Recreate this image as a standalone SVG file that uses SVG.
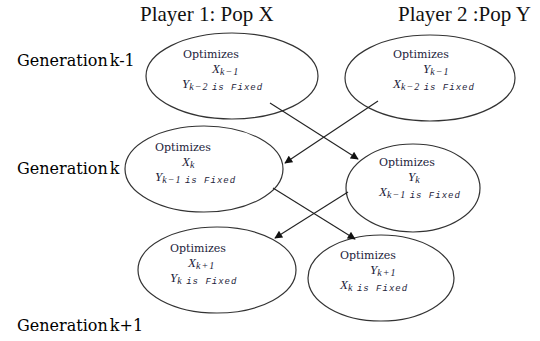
<svg xmlns="http://www.w3.org/2000/svg" width="540" height="341" viewBox="0 0 540 341">
<style>
.title{font-family:"Liberation Serif",serif;font-size:21px;fill:#111}
.gen{font-family:"DejaVu Serif","Liberation Serif",serif;font-size:16px;fill:#000;word-spacing:-3px}
.node ellipse{fill:#fff;stroke:#333;stroke-width:1.2}
.opt{font-family:"DejaVu Serif","Liberation Serif",serif;font-size:11px;fill:#1c1c3a}
.var{font-family:"Liberation Serif",serif;font-style:italic;font-size:13px;fill:#1c1c3a}
.sub{font-family:"Liberation Serif",serif;font-style:italic;font-size:10px;letter-spacing:1px}
.fx{font-family:"Liberation Mono",monospace;font-style:italic;font-size:9px;letter-spacing:1px}
.conn line{stroke:#222;stroke-width:1.1;marker-end:url(#ah)}
</style>
<defs>
<marker id="ah" viewBox="0 0 10 10" refX="9" refY="5" markerWidth="9" markerHeight="8" markerUnits="userSpaceOnUse" orient="auto">
<path d="M0,0 L10,5 L0,10 z" fill="#111"/>
</marker>
</defs>
<rect width="540" height="341" fill="#fff"/>
<text class="title" x="140" y="21">Player 1: Pop X</text>
<text class="title" x="398" y="21">Player 2 :Pop Y</text>
<text class="gen" x="17" y="66">Generation k-1</text>
<text class="gen" x="17" y="174">Generation k</text>
<text class="gen" x="17" y="331">Generation k+1</text>

<g id="n1" class="node">
<ellipse cx="232" cy="76" rx="86" ry="43"/>
<text class="opt" x="183" y="58">Optimizes</text>
<text class="var" x="212" y="73">X<tspan class="sub" dy="2">k−1</tspan></text>
<text class="var" x="182" y="88">Y<tspan class="sub" dy="2">k−2 </tspan><tspan class="fx">is Fixed</tspan></text>
</g>
<g id="n2" class="node">
<ellipse cx="430" cy="78" rx="85" ry="43"/>
<text class="opt" x="393" y="58">Optimizes</text>
<text class="var" x="423" y="73">Y<tspan class="sub" dy="2">k−1</tspan></text>
<text class="var" x="393" y="88">X<tspan class="sub" dy="2">k−2 </tspan><tspan class="fx">is Fixed</tspan></text>
</g>
<g id="n3" class="node">
<ellipse cx="204" cy="169" rx="79" ry="43"/>
<text class="opt" x="155" y="151">Optimizes</text>
<text class="var" x="182" y="166">X<tspan class="sub" dy="2">k</tspan></text>
<text class="var" x="155" y="181">Y<tspan class="sub" dy="2">k−1 </tspan><tspan class="fx">is Fixed</tspan></text>
</g>
<g id="n4" class="node">
<ellipse cx="413" cy="188" rx="67" ry="44"/>
<text class="opt" x="379" y="166">Optimizes</text>
<text class="var" x="408" y="181">Y<tspan class="sub" dy="2">k</tspan></text>
<text class="var" x="379" y="196">X<tspan class="sub" dy="2">k−1 </tspan><tspan class="fx">is Fixed</tspan></text>
</g>
<g id="n5" class="node">
<ellipse cx="217" cy="270" rx="79" ry="43"/>
<text class="opt" x="170" y="252">Optimizes</text>
<text class="var" x="188" y="267">X<tspan class="sub" dy="2">k+1</tspan></text>
<text class="var" x="170" y="282">Y<tspan class="sub" dy="2">k </tspan><tspan class="fx">is Fixed</tspan></text>
</g>
<g id="n6" class="node">
<ellipse cx="381" cy="278" rx="73" ry="43"/>
<text class="opt" x="340" y="259">Optimizes</text>
<text class="var" x="370" y="274">Y<tspan class="sub" dy="2">k+1</tspan></text>
<text class="var" x="340" y="289">X<tspan class="sub" dy="2">k </tspan><tspan class="fx">is Fixed</tspan></text>
</g>

<g id="connectors" class="conn">
<line x1="270" y1="103" x2="358" y2="159"/>
<line x1="378" y1="101" x2="285" y2="163"/>
<line x1="273" y1="188" x2="355" y2="239"/>
<line x1="348" y1="192" x2="275" y2="238"/>
</g>
</svg>
